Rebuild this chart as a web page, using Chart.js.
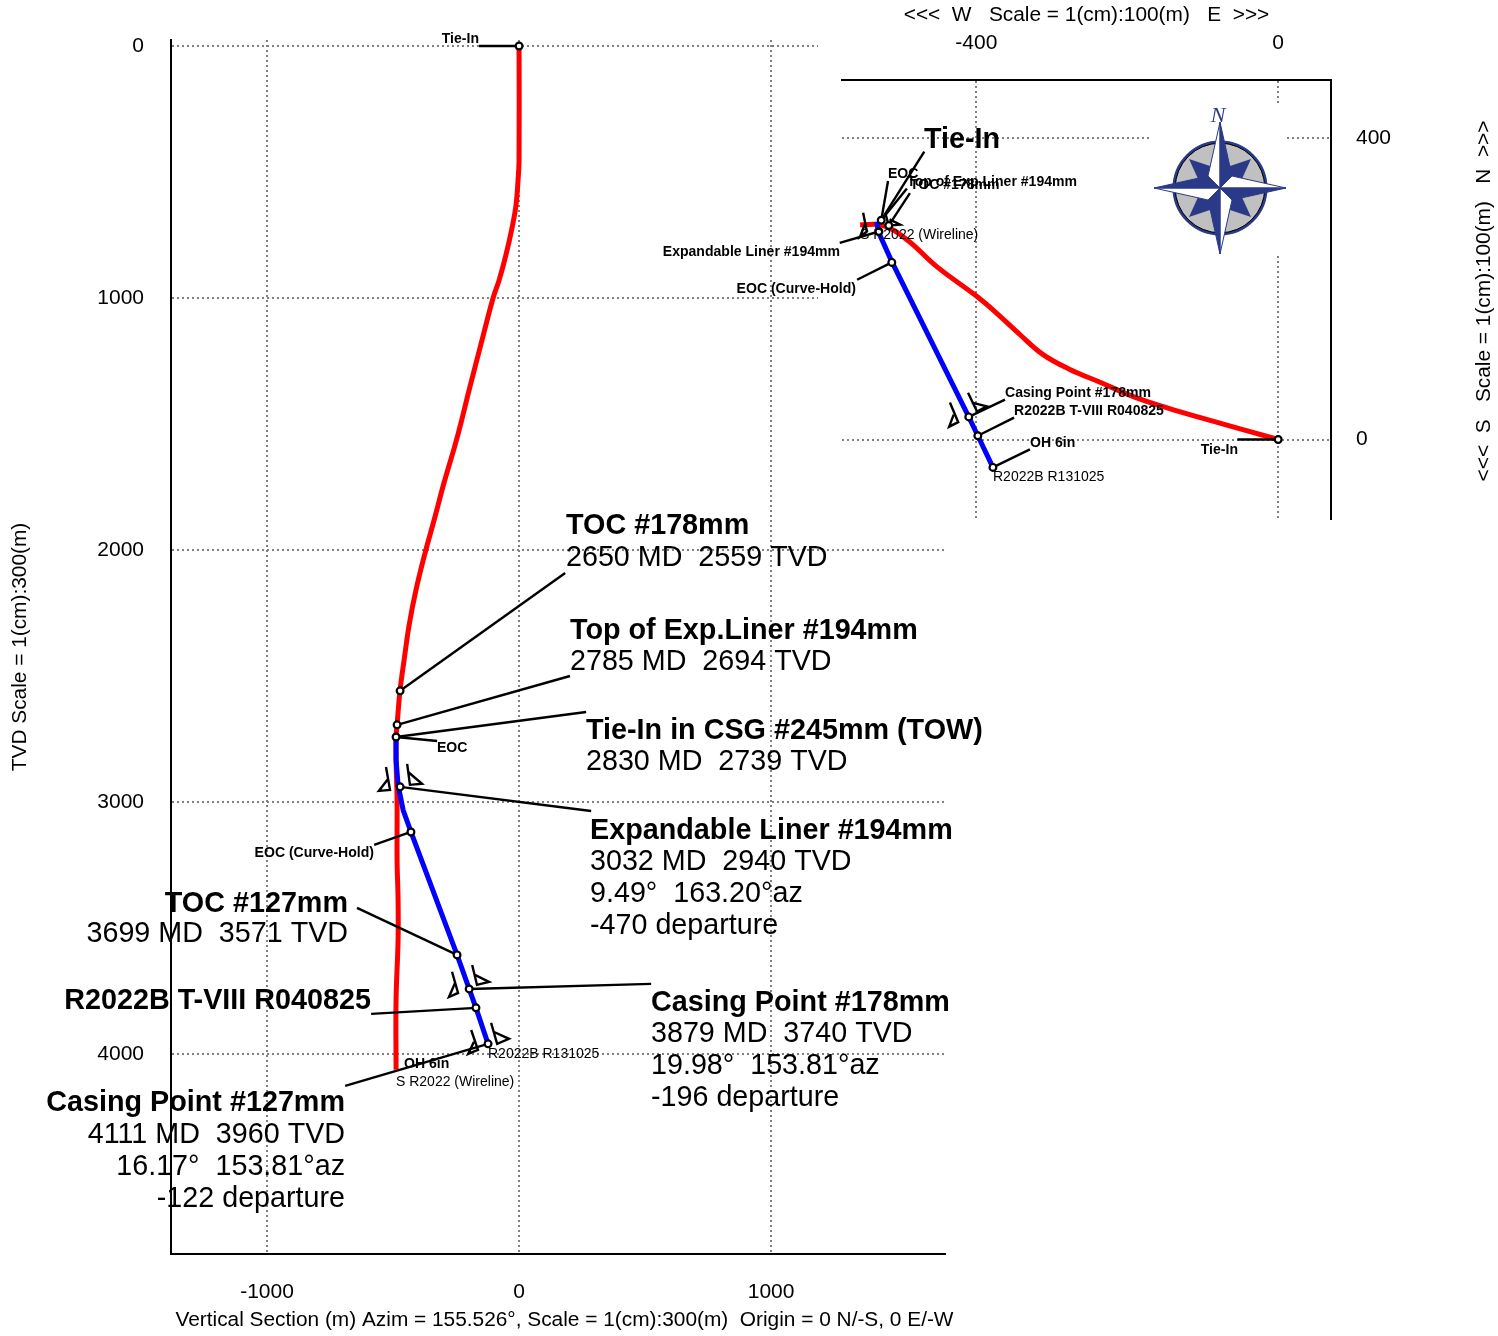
<!DOCTYPE html>
<html>
<head>
<meta charset="utf-8">
<title>Wellbore section and plan</title>
<script src="https://cdn.jsdelivr.net/npm/chart.js@4"></script>
<style>
  html, body { margin: 0; padding: 0; background: #fff; }
  #sectionChart { position: absolute; left: 0; top: 0; }
  #planChart { position: absolute; left: 650px; top: 0; }
</style>
</head>
<body>
<canvas id="sectionChart" width="1498" height="1336"></canvas>
<canvas id="planChart" width="848" height="557"></canvas>
<script>
// ---- vertical section: departure (m) / TVD (m)
const sectionXTicks = [-1000, 0, 1000];
const sectionYTicks = [0, 1000, 2000, 3000, 4000];

const wirelineDep = [0, 0, -4, -12, -28, -52, -79, -103, -147, -194, -246, -298, -337, -373, -409, -436, -456, -472, -484, -488, -488, -484, -484, -480, -480, -488, -488];
const wirelineTvd = [0, 452, 532, 631, 722, 829, 929, 1000, 1167, 1349, 1555, 1734, 1881, 2012, 2159, 2297, 2436, 2555, 2694, 2742, 2833, 2992, 3230, 3389, 3547, 3786, 4063];

const sidetrackDep = [-488, -488, -480, -460, -429, -246, -198, -171, -123];
const sidetrackTvd = [2742, 2833, 2932, 3032, 3119, 3607, 3742, 3817, 3960];

const sectionStationDep = [0, -472, -484, -488, -472, -429, -246, -198, -171, -123];
const sectionStationTvd = [0, 2559, 2694, 2742, 2940, 3119, 3607, 3742, 3817, 3960];

// leader lines, [dep, tvd, dep, tvd]
const sectionLeaders = [
  [-159, 0, 0, 0],
  [183, 2091, -472, 2559],
  [202, 2500, -484, 2694],
  [266, 2643, -488, 2742],
  [-325, 2758, -488, 2742],
  [286, 3036, -472, 2940],
  [-575, 3170, -429, 3119],
  [-643, 3420, -246, 3607],
  [524, 3722, -198, 3742],
  [-587, 3841, -171, 3817],
  [-690, 4127, -123, 3960]
];

// casing shoe symbols
const sectionShoes = [
  [[-528, 2861], [-512, 2952], [-556, 2956], [-520, 2909]],
  [[-444, 2849], [-433, 2932], [-385, 2928], [-440, 2881]],
  [[-266, 3674], [-242, 3758], [-278, 3774], [-254, 3718]],
  [[-186, 3647], [-167, 3726], [-119, 3714], [-175, 3686]],
  [[-190, 3905], [-163, 3984], [-202, 4000], [-179, 3952]],
  [[-111, 3877], [-87, 3960], [-40, 3940], [-99, 3913]]
];

// ---- plan view: E-W (m) / N-S (m)
const planXTicks = [-400, 0];
const planYTicks = [0, 400];

const planWirelineEW = [0, -103, -147, -192, -236, -276, -312, -342, -378, -402, -452, -492, -524, -554];
const planWirelineNS = [0, 29, 42, 57, 76, 93, 113, 139, 172, 192, 229, 265, 284, 285];

const planSidetrackEW = [-532, -530, -512, -410, -398, -378];
const planSidetrackNS = [289, 276, 236, 30, 5, -37];

const planStationEW = [0, -526, -529, -516, -512, -410, -398, -378];
const planStationNS = [0, 291, 276, 284, 235, 30, 5, -37];

const planLeaders = [
  [-54, 0, 0, 0],
  [-469, 382, -526, 291],
  [-517, 343, -526, 291],
  [-492, 333, -526, 291],
  [-488, 327, -516, 284],
  [-581, 261, -529, 276],
  [-558, 212, -512, 235],
  [-362, 53, -410, 30],
  [-350, 29, -398, 5],
  [-329, -13, -378, -37]
];

const planShoes = [
  [[-550, 301], [-545, 276], [-554, 269], [-548, 285]],
  [[-520, 298], [-516, 284], [-501, 285], [-515, 292]],
  [[-435, 49], [-424, 23], [-436, 17], [-430, 33]],
  [[-411, 62], [-399, 37], [-386, 44], [-406, 49]]
];

const FONT = '"Liberation Sans", Arial, sans-serif';
const big = '28.7px ' + FONT;
const bigBold = 'bold 28.75px ' + FONT;
const small = '14px ' + FONT;
const smallBold = 'bold 14.05px ' + FONT;
const axisFont = '20.85px ' + FONT;

Chart.defaults.font.family = FONT;
Chart.defaults.color = '#000';

// text, page x, page y, align, font
const sectionLabels = [
  ['TOC #178mm', 566, 524, 'left', bigBold],
  ['2650 MD  2559 TVD', 566, 556, 'left', big],
  ['Top of Exp.Liner #194mm', 570, 629, 'left', bigBold],
  ['2785 MD  2694 TVD', 570, 660, 'left', big],
  ['Tie-In in CSG #245mm (TOW)', 586, 729, 'left', bigBold],
  ['2830 MD  2739 TVD', 586, 760, 'left', big],
  ['Expandable Liner #194mm', 590, 829, 'left', bigBold],
  ['3032 MD  2940 TVD', 590, 860, 'left', big],
  ['9.49°  163.20°az', 590, 892, 'left', big],
  ['-470 departure', 590, 924, 'left', big],
  ['Casing Point #178mm', 651, 1001, 'left', bigBold],
  ['3879 MD  3740 TVD', 651, 1032, 'left', big],
  ['19.98°  153.81°az', 651, 1064, 'left', big],
  ['-196 departure', 651, 1096, 'left', big],
  ['TOC #127mm', 348, 902, 'right', bigBold],
  ['3699 MD  3571 TVD', 348, 932, 'right', big],
  ['R2022B T-VIII R040825', 371, 999, 'right', bigBold],
  ['Casing Point #127mm', 345, 1101, 'right', bigBold],
  ['4111 MD  3960 TVD', 345, 1133, 'right', big],
  ['16.17°  153.81°az', 345, 1165, 'right', big],
  ['-122 departure', 345, 1197, 'right', big],
  ['Tie-In', 479, 38, 'right', smallBold],
  ['EOC', 437, 747, 'left', smallBold],
  ['EOC (Curve-Hold)', 374, 852, 'right', smallBold],
  ['OH 6in', 404, 1063, 'left', smallBold],
  ['S R2022 (Wireline)', 396, 1081, 'left', small],
  ['R2022B R131025', 488, 1053, 'left', small],
  ['Vertical Section (m) Azim = 155.526°, Scale = 1(cm):300(m)  Origin = 0 N/-S, 0 E/-W', 564.5, 1319, 'center', axisFont]
];

const planLabels = [
  ['Tie-In', 924, 138, 'left', bigBold],
  ['EOC', 888, 173, 'left', smallBold],
  ['Top of Exp.Liner #194mm', 1077, 181, 'right', smallBold],
  ['TOC #178mm', 910, 184, 'left', smallBold],
  ['S R2022 (Wireline)', 860, 234, 'left', small],
  ['Expandable Liner #194mm', 840, 251, 'right', smallBold],
  ['EOC (Curve-Hold)', 856, 288, 'right', smallBold],
  ['Casing Point #178mm', 1005, 392, 'left', smallBold],
  ['R2022B T-VIII R040825', 1014, 410, 'left', smallBold],
  ['OH 6in', 1030, 442, 'left', smallBold],
  ['Tie-In', 1238, 449, 'right', smallBold],
  ['R2022B R131025', 993, 476, 'left', small]
];

function toPoints(xs, ys) {
  return xs.map((x, i) => ({ x: x, y: ys[i] }));
}

function buildDatasets(redPts, bluePts, stations, leaders, shoes) {
  const blackLine = { showLine: true, borderColor: '#000', borderWidth: 2.4, pointRadius: 0, tension: 0, clip: false };
  const sets = [];
  // first dataset ends up on top
  sets.push({ data: stations, showLine: false, pointRadius: 3.4, pointBorderWidth: 2.2, pointBorderColor: '#000', pointBackgroundColor: '#fff', clip: false });
  leaders.forEach(l => sets.push(Object.assign({ data: [{ x: l[0], y: l[1] }, { x: l[2], y: l[3] }] }, blackLine)));
  shoes.forEach(s => sets.push(Object.assign({ data: s.map(p => ({ x: p[0], y: p[1] })) }, blackLine)));
  sets.push({ data: bluePts, showLine: true, borderColor: '#0000ff', borderWidth: 5, pointRadius: 0, tension: 0 });
  sets.push({ data: redPts, showLine: true, borderColor: '#ff0000', borderWidth: 5, pointRadius: 0, tension: 0.4 });
  return sets;
}

const textPlugin = {
  id: 'wellText',
  afterDatasetsDraw(chart, args, opts) {
    const ctx = chart.ctx;
    ctx.save();
    ctx.fillStyle = '#000';
    ctx.textBaseline = 'middle';
    opts.items.forEach(t => {
      const nudge = (t[4] === big || t[4] === bigBold) ? 2 : 1;
      ctx.font = t[4];
      ctx.textAlign = t[3];
      ctx.fillText(t[0], t[1] - opts.offsetX, t[2] + nudge);
    });
    ctx.restore();
  }
};

// top two section gridlines stop short of the plan view
const gridPatchPlugin = {
  id: 'gridPatch',
  beforeDatasetsDraw(chart) {
    chart.ctx.save();
    chart.ctx.fillStyle = '#fff';
    chart.ctx.fillRect(818, 38, 132, 270);
    chart.ctx.restore();
  }
};

function gridOpts() {
  return { color: '#808080', lineWidth: 2, tickLength: 0, drawTicks: false };
}
function borderOpts() {
  return { display: true, color: '#000', width: 2, dash: [2, 3] };
}
function fixTicks(list) {
  return s => { s.ticks = list.map(v => ({ value: v })); };
}

new Chart(document.getElementById('sectionChart'), {
  type: 'scatter',
  data: {
    datasets: buildDatasets(
      toPoints(wirelineDep, wirelineTvd),
      toPoints(sidetrackDep, sidetrackTvd),
      toPoints(sectionStationDep, sectionStationTvd),
      sectionLeaders, sectionShoes)
  },
  plugins: [gridPatchPlugin, textPlugin],
  options: {
    responsive: false,
    animation: false,
    events: [],
    layout: { padding: { top: 40, right: 553, left: 0, bottom: 0 } },
    plugins: {
      legend: { display: false },
      tooltip: { enabled: false },
      wellText: { items: sectionLabels, offsetX: 0 }
    },
    scales: {
      x: {
        type: 'linear',
        min: -1381,
        max: 1690,
        afterBuildTicks: fixTicks(sectionXTicks),
        afterFit: s => { s.height = 82; },
        grid: gridOpts(),
        border: borderOpts(),
        ticks: { padding: 26, maxRotation: 0, autoSkip: false, font: { size: 21 }, callback: v => String(v) }
      },
      y: {
        type: 'linear',
        reverse: true,
        min: -24,
        max: 4794,
        afterBuildTicks: fixTicks(sectionYTicks),
        afterFit: s => { s.width = 171; },
        grid: gridOpts(),
        border: borderOpts(),
        ticks: { padding: 27, autoSkip: false, font: { size: 21 }, callback: v => String(v) },
        title: { display: true, text: 'TVD Scale = 1(cm):300(m)', font: { size: 20.85 }, padding: { top: 8, bottom: 0 } }
      }
    }
  }
});

// compass rose, white patch hides the grid behind it
const compassPlugin = {
  id: 'compass',
  beforeDatasetsDraw(chart) {
    const ctx = chart.ctx;
    const cx = 570, cy = 188;
    const navy = '#2b3a88';
    ctx.save();
    ctx.fillStyle = '#fff';
    ctx.fillRect(500, 105, 137, 148);

    ctx.beginPath();
    ctx.arc(cx, cy, 46, 0, Math.PI * 2);
    ctx.fillStyle = '#c0c0c0';
    ctx.fill();
    ctx.lineWidth = 3;
    ctx.strokeStyle = navy;
    ctx.stroke();
    ctx.beginPath();
    ctx.arc(cx, cy, 44.8, 0, Math.PI * 2);
    ctx.lineWidth = 1;
    ctx.strokeStyle = '#000';
    ctx.stroke();

    function poly(pts, fill, stroke) {
      ctx.beginPath();
      pts.forEach((p, i) => i ? ctx.lineTo(cx + p[0], cy + p[1]) : ctx.moveTo(cx + p[0], cy + p[1]));
      ctx.closePath();
      ctx.fillStyle = fill;
      ctx.fill();
      if (stroke) {
        ctx.lineWidth = 1;
        ctx.strokeStyle = stroke;
        ctx.stroke();
      }
    }
    [[1, -1], [1, 1], [-1, 1], [-1, -1]].forEach(d => {
      poly([[d[0] * 31, d[1] * 29], [d[0] * 7, d[1] * 21], [d[0] * 12, d[1] * 12], [d[0] * 21, d[1] * 7]], navy);
    });
    const tip = 66, c = 12;
    poly([[0, -tip], [-c, -c], [0, 0]], '#fff', navy);
    poly([[0, -tip], [c, -c], [0, 0]], navy, navy);
    poly([[tip, 0], [c, -c], [0, 0]], '#fff', navy);
    poly([[tip, 0], [c, c], [0, 0]], navy, navy);
    poly([[0, tip], [c, c], [0, 0]], '#fff', navy);
    poly([[0, tip], [-c, c], [0, 0]], navy, navy);
    poly([[-tip, 0], [-c, c], [0, 0]], '#fff', navy);
    poly([[-tip, 0], [-c, -c], [0, 0]], navy, navy);

    ctx.fillStyle = navy;
    ctx.font = 'italic 22px "Liberation Serif", serif';
    ctx.textAlign = 'center';
    ctx.textBaseline = 'middle';
    ctx.fillText('N', cx - 2, 116);
    ctx.restore();
  },
  afterDraw(chart) {
    // right axis title reads bottom to top, chart.js would turn it the other way
    const ctx = chart.ctx;
    ctx.save();
    ctx.translate(834, 301);
    ctx.rotate(-Math.PI / 2);
    ctx.font = axisFont;
    ctx.fillStyle = '#000';
    ctx.textAlign = 'center';
    ctx.textBaseline = 'middle';
    ctx.fillText('<<<  S   Scale = 1(cm):100(m)   N  >>>', 0, 0);
    ctx.restore();
  }
};

new Chart(document.getElementById('planChart'), {
  type: 'scatter',
  data: {
    datasets: buildDatasets(
      toPoints(planWirelineEW, planWirelineNS),
      toPoints(planSidetrackEW, planSidetrackNS),
      toPoints(planStationEW, planStationNS),
      planLeaders, planShoes)
  },
  plugins: [compassPlugin, textPlugin],
  options: {
    responsive: false,
    animation: false,
    events: [],
    layout: { padding: { left: 192, top: 0, right: 0, bottom: 0 } },
    plugins: {
      legend: { display: false },
      tooltip: { enabled: false },
      wellText: { items: planLabels, offsetX: 650 }
    },
    scales: {
      x: {
        type: 'linear',
        position: 'top',
        min: -578,
        max: 70,
        afterBuildTicks: fixTicks(planXTicks),
        afterFit: s => { s.height = 80; },
        grid: gridOpts(),
        border: borderOpts(),
        ticks: { padding: 24, maxRotation: 0, autoSkip: false, font: { size: 21 }, callback: v => String(v) },
        title: { display: true, text: '<<<  W   Scale = 1(cm):100(m)   E  >>>', font: { size: 20.85 }, padding: { top: 3, bottom: 0 } }
      },
      y: {
        type: 'linear',
        position: 'right',
        min: -106,
        max: 477,
        afterBuildTicks: fixTicks(planYTicks),
        afterFit: s => { s.width = 167; },
        grid: gridOpts(),
        border: borderOpts(),
        ticks: { padding: 25, autoSkip: false, font: { size: 21 }, callback: v => String(v) }
      }
    }
  }
});
</script>
</body>
</html>
